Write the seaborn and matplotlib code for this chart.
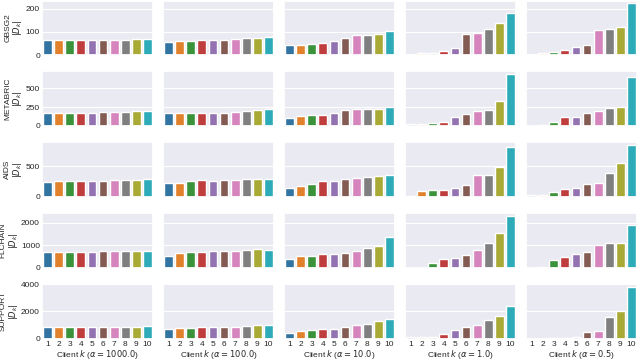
import numpy as np
import pandas as pd
import matplotlib
matplotlib.use("Agg")
import matplotlib.pyplot as plt
import seaborn as sns

datasets = ["GBSG2", "METABRIC", "AIDS", "FLCHAIN", "SUPPORT"]
alphas = ["1000.0", "100.0", "10.0", "1.0", "0.5"]
clients = [1, 2, 3, 4, 5, 6, 7, 8, 9, 10]

gbsg2_a1000 = [63, 63, 65, 66, 66, 66, 66, 66, 68, 69]
gbsg2_a100 = [57, 59, 61, 63, 63, 65, 68, 72, 74, 76]
gbsg2_a10 = [44, 45, 48, 50, 59, 72, 85, 86, 92, 103]
gbsg2_a1 = [1, 7, 10, 17, 29, 89, 94, 111, 140, 181]
gbsg2_a05 = [0, 10, 13, 20, 33, 44, 107, 111, 121, 224]

metabric_a1000 = [171, 176, 176, 176, 176, 185, 185, 185, 194, 203]
metabric_a100 = [167, 167, 167, 171, 171, 176, 189, 194, 207, 221]
metabric_a10 = [108, 131, 144, 144, 176, 212, 221, 230, 230, 248]
metabric_a1 = [23, 23, 32, 54, 113, 162, 198, 216, 338, 694]
metabric_a05 = [2, 14, 50, 117, 122, 176, 203, 234, 257, 658]

aids_a1000 = [244, 250, 261, 261, 256, 261, 272, 272, 272, 283]
aids_a100 = [222, 222, 256, 267, 261, 272, 278, 289, 294, 294]
aids_a10 = [150, 178, 217, 259, 261, 289, 306, 328, 344, 350]
aids_a1 = [11, 94, 106, 111, 150, 200, 350, 361, 483, 817]
aids_a05 = [33, 28, 83, 133, 150, 217, 233, 394, 550, 850]

flchain_a1000 = [701, 716, 716, 716, 716, 731, 731, 731, 746, 761]
flchain_a100 = [507, 672, 716, 716, 731, 761, 761, 776, 821, 806]
flchain_a10 = [403, 507, 507, 612, 612, 672, 761, 866, 985, 1380]
flchain_a1 = [0, 0, 224, 403, 418, 552, 806, 1104, 1522, 2313]
flchain_a05 = [0, 45, 328, 493, 612, 716, 1030, 1090, 1090, 1896]

support_a1000 = [820, 820, 845, 845, 845, 845, 845, 845, 870, 919]
support_a100 = [696, 770, 770, 820, 820, 870, 870, 944, 1019, 1019]
support_a10 = [422, 522, 646, 696, 720, 845, 1019, 1093, 1292, 1441]
support_a1 = [99, 99, 99, 323, 646, 820, 994, 1342, 1689, 2360]
support_a05 = [0, 0, 50, 50, 99, 497, 571, 1565, 2012, 3826]

values = {
    "GBSG2": [gbsg2_a1000, gbsg2_a100, gbsg2_a10, gbsg2_a1, gbsg2_a05],
    "METABRIC": [metabric_a1000, metabric_a100, metabric_a10, metabric_a1, metabric_a05],
    "AIDS": [aids_a1000, aids_a100, aids_a10, aids_a1, aids_a05],
    "FLCHAIN": [flchain_a1000, flchain_a100, flchain_a10, flchain_a1, flchain_a05],
    "SUPPORT": [support_a1000, support_a100, support_a10, support_a1, support_a05],
}
yticks = {
    "GBSG2": [0, 100, 200],
    "METABRIC": [0, 250, 500],
    "AIDS": [0, 500],
    "FLCHAIN": [0, 1000, 2000],
    "SUPPORT": [0, 2000, 4000],
}

sns.set_theme(style="darkgrid")
plt.rcParams["font.family"] = ["Liberation Sans", "DejaVu Sans"]
plt.rcParams["mathtext.fontset"] = "dejavusans"
fs = 6.0

fig, axes = plt.subplots(5, 5, figsize=(6.4, 3.6), dpi=100, sharex=True, sharey="row")
fig.subplots_adjust(left=42 / 640, right=637 / 640, top=1 - 0.5 / 360,
                    bottom=1 - 338.5 / 360, wspace=0.09, hspace=0.30)

palette = sns.color_palette("tab10", 10)
for i, ds in enumerate(datasets):
    for j, a in enumerate(alphas):
        ax = axes[i, j]
        df = pd.DataFrame({"client": [str(c) for c in clients], "n": values[ds][j]})
        sns.barplot(data=df, x="client", y="n", hue="client", palette=palette,
                    legend=False, ax=ax, order=[str(c) for c in clients])
        ax.set_ylabel("")
        ax.set_xlabel("")
        ax.tick_params(axis="both", labelsize=fs, pad=1.5, length=0)
        ax.grid(False, axis="x")
        ax.grid(True, axis="y", color="white", linewidth=0.8)
        if j == 0:
            ax.set_yticks(yticks[ds])
            ax.set_ylabel(ds + "\n$|D_k|$", fontsize=fs, linespacing=1.0, labelpad=1.0)
        if i == len(datasets) - 1:
            ax.set_xlabel("Client $k$ ($\\alpha = " + a + "$)", fontsize=fs, labelpad=0.3)

for i, ds in enumerate(datasets):
    mx = max(max(v) for v in values[ds])
    axes[i, 0].set_ylim(0, mx * 1.05)

fig.savefig("out.png", dpi=100)
